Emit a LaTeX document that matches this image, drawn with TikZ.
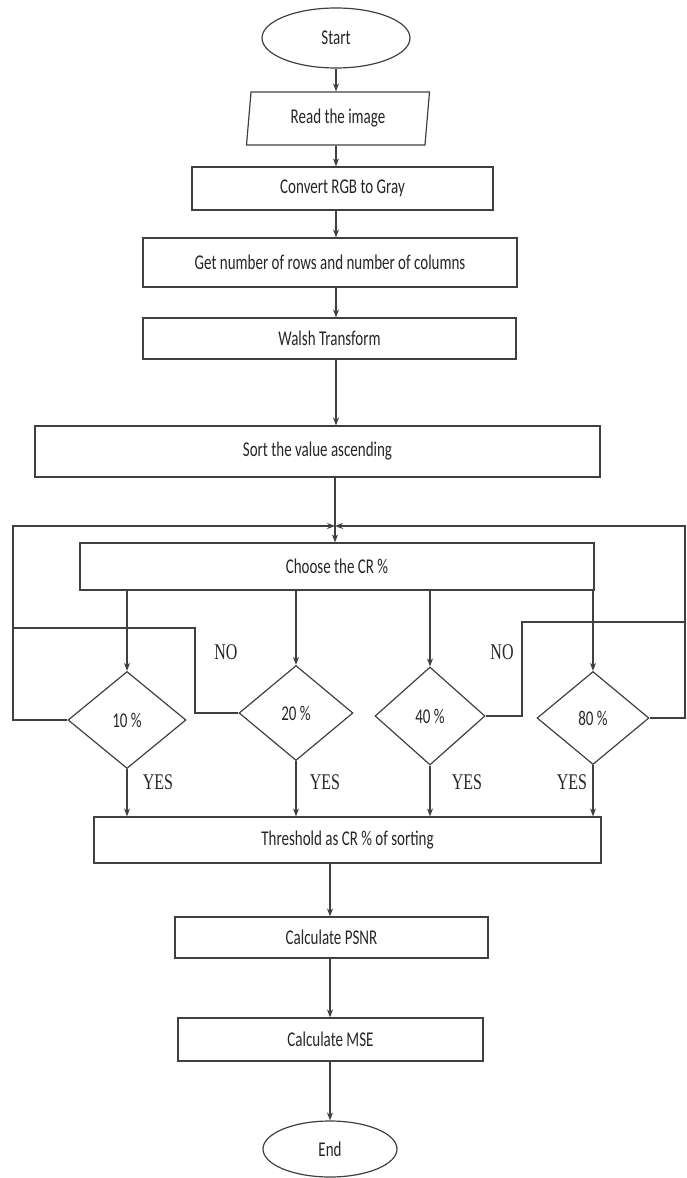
\documentclass[tikz,border=0pt]{standalone}
\usepackage{fontspec,graphicx}
\setmainfont{Carlito}
\newfontfamily\yesno{Liberation Serif}
\usetikzlibrary{arrows.meta,shapes.geometric}
\newcommand\tall[1]{\scalebox{1}[1.4]{#1}}
\tikzset{
  box/.style={draw=black!75,line width=1.2pt,inner sep=0pt,font=\fontsize{15}{18}\selectfont,text=black!85},
  proc/.style={box,rectangle},
  term/.style={box,ellipse},
  io/.style={box,trapezium,trapezium left angle=76,trapezium right angle=104,trapezium stretches body},
  dec/.style={box,diamond},
  lab/.style={font=\yesno\fontsize{16}{18}\selectfont,inner sep=0pt,text=black!85},
  line/.style={draw=black!75,line width=1.2pt},
}
\begin{document}
\begin{tikzpicture}[x=1pt,y=-1pt,>={Stealth[length=8pt,width=6pt]}]
\useasboundingbox (0,0) rectangle (687,1178);
% main column
\node[term,minimum width=148,minimum height=60] (start) at (336,38) {\tall{Start}};
\node[io,minimum width=183,minimum height=53] (read) at (338,118.5) {\tall{Read the image}};
\node[proc,minimum width=301,minimum height=43] (conv) at (342.5,188.5) {\tall{Convert RGB to Gray}};
\node[proc,minimum width=374,minimum height=49] (rows) at (330,262.5) {\tall{Get number of rows and number of columns}};
\node[proc,minimum width=373,minimum height=41] (walsh) at (329.5,338.5) {\tall{Walsh Transform}};
\node[proc,minimum width=565,minimum height=51] (sort) at (317.5,451.5) {\tall{Sort the value ascending}};
\node[proc,minimum width=514,minimum height=47] (choose) at (337,566.5) {\tall{Choose the CR \%}};
% decisions
\node[dec,minimum width=118,minimum height=97] (d10) at (127,720) {\tall{10 \%}};
\node[dec,minimum width=114,minimum height=95] (d20) at (296,713) {\tall{20 \%}};
\node[dec,minimum width=110,minimum height=98] (d40) at (430,716) {\tall{40 \%}};
\node[dec,minimum width=112,minimum height=93] (d80) at (593,718) {\tall{80 \%}};
\node[proc,minimum width=507,minimum height=46] (thr) at (347.5,840) {\tall{Threshold as CR \% of sorting}};
\node[proc,minimum width=313,minimum height=41] (psnr) at (331.5,937.5) {\tall{Calculate PSNR}};
\node[proc,minimum width=305,minimum height=43] (mse) at (330.5,1039.5) {\tall{Calculate MSE}};
\node[term,minimum width=134,minimum height=56] (fin) at (330,1149) {\tall{End}};
% labels
\node[lab] (n20) at (226,652) {\tall{NO}};
\node[lab] (n40) at (502,652) {\tall{NO}};
\node[lab] (y10) at (158,782) {\tall{YES}};
\node[lab] (y20) at (325,782) {\tall{YES}};
\node[lab] (y40) at (467,782) {\tall{YES}};
\node[lab] (y80) at (572,782) {\tall{YES}};
% helper points
\coordinate (axis) at (336,0);
\coordinate (axisb) at (330,0);
\coordinate (jn) at (335,526);
\coordinate (lft) at (13,526);
\coordinate (rgt) at (685,526);
\coordinate (no20) at (195,628);
\coordinate (no40) at (522,622);
% arrows
\foreach \a/\b in {start/read,read/conv,conv/rows,rows/walsh,walsh/sort}
  \draw[line,->] (\a.south -| axis) -- (\b.north -| axis);
\draw[line,->] (sort.south -| jn) -- (choose.north -| jn);
\foreach \d in {d10,d20,d40,d80} {
  \draw[line,->] (choose.south -| \d.north) -- (\d.north);
  \draw[line,->] (\d.south) -- (\d.south |- thr.north);
}
% loops back
\draw[line,->] (d10.west) -| (lft) -- (jn);
\draw[line] (d20.west) -| (no20) -- (no20 -| lft);
\draw[line] (d40.east) -| (no40) -- (no40 -| rgt);
\draw[line,->] (d80.east) -| (rgt) -- (jn);
% lower column
\draw[line,->] (thr.south -| axisb) -- (psnr.north -| axisb);
\draw[line,->] (psnr.south -| axisb) -- (mse.north -| axisb);
\draw[line,->] (mse.south -| axisb) -- (fin.north -| axisb);
\end{tikzpicture}
\end{document}
